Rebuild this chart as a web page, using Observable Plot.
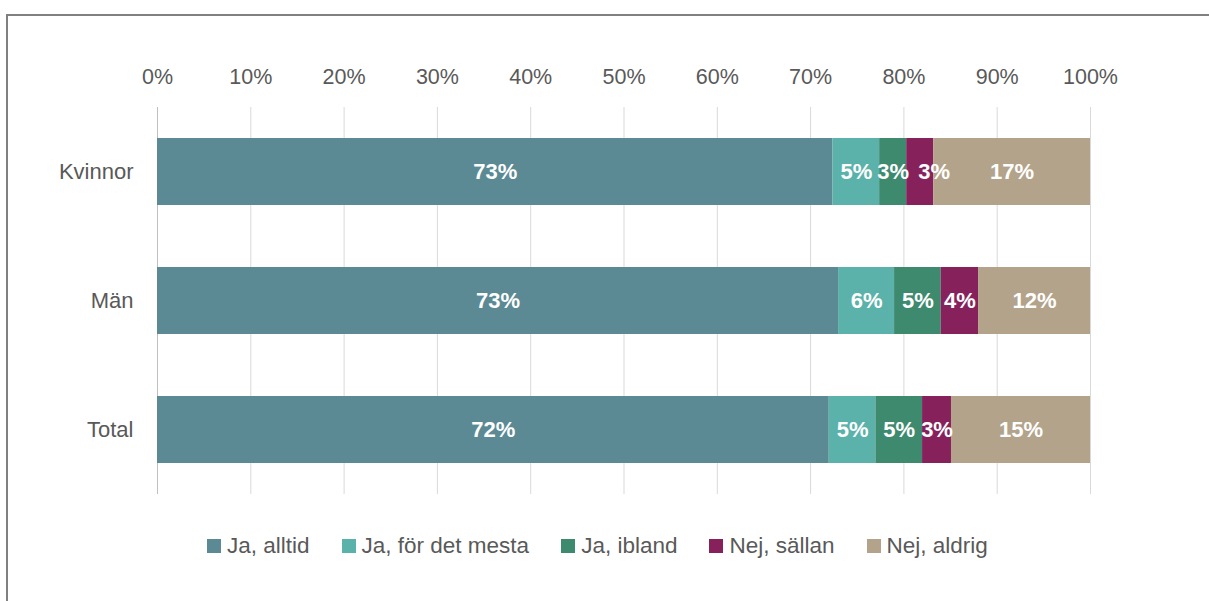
<!DOCTYPE html>
<html>
<head>
<meta charset="utf-8">
<script src="https://cdn.jsdelivr.net/npm/d3@7"></script>
<script src="https://cdn.jsdelivr.net/npm/@observablehq/plot@0.6"></script>
<style>
  body { margin: 0; background: #fff; width: 1209px; height: 601px; overflow: hidden; position: relative; }
  #frame { position: absolute; left: 6px; top: 14px; width: 1400px; height: 800px; border: 2px solid #808080; box-sizing: border-box; pointer-events: none; }
  #chart { position: absolute; left: 0; top: 0; }
  #legend { position: absolute; left: 207px; top: 533px; display: flex; align-items: center; font-family: "Liberation Sans", Arial, sans-serif; font-size: 22.5px; color: #595959; }
  .item { display: flex; align-items: center; margin-right: 32px; }
  .sw { width: 14px; height: 14px; margin-right: 6px; }
</style>
</head>
<body>
<div id="chart"></div>
<div id="legend"></div>
<div id="frame"></div>
<script>
const groups = ["Kvinnor", "Män", "Total"];
const series = ["Ja, alltid", "Ja, för det mesta", "Ja, ibland", "Nej, sällan", "Nej, aldrig"];
const colors = ["#5B8A94", "#5AB2AA", "#3E8A6E", "#87215C", "#B3A38A"];
const valuesKvinnor = [72.4, 5.0, 2.9, 2.9, 16.8];
const valuesMan = [73.0, 6.0, 5.0, 4.0, 12.0];
const valuesTotal = [72.0, 5.0, 5.0, 3.1, 14.9];
const labelsKvinnor = ["73%", "5%", "3%", "3%", "17%"];
const labelsMan = ["73%", "6%", "5%", "4%", "12%"];
const labelsTotal = ["72%", "5%", "5%", "3%", "15%"];
const xTicks = [0, 10, 20, 30, 40, 50, 60, 70, 80, 90, 100];
const xTickLabels = ["0%", "10%", "20%", "30%", "40%", "50%", "60%", "70%", "80%", "90%", "100%"];

const allValues = [valuesKvinnor, valuesMan, valuesTotal];
const allLabels = [labelsKvinnor, labelsMan, labelsTotal];
const data = [];
groups.forEach((g, gi) => series.forEach((s, si) => data.push({group: g, series: s, value: allValues[gi][si], label: allLabels[gi][si]})));

const font = '"Liberation Sans", Arial, sans-serif';
const shifted = d => d.group === "Kvinnor" && d.series === "Nej, sällan";

const labelOpts = {x: "value", y: "group", text: "label", order: null, fill: "white", fontWeight: "bold", fontSize: 22, fontFamily: font};

const plot = Plot.plot({
  width: 1209,
  height: 510,
  marginLeft: 157,
  marginRight: 119,
  marginTop: 107,
  marginBottom: 16,
  style: {background: "transparent", fontFamily: font, fontSize: "22px", color: "#595959", overflow: "visible"},
  x: {domain: [0, 100], ticks: xTicks, label: null},
  y: {domain: groups, paddingInner: 0.477, paddingOuter: 0.23, label: null},
  color: {domain: series, range: colors},
  marks: [
    Plot.ruleX(xTicks, {stroke: d => d === 0 ? "#bfbfbf" : "#d9d9d9", strokeWidth: 1}),
    Plot.barX(data, Plot.stackX({x: "value", y: "group", fill: "series", order: null})),
    Plot.text(data, Plot.filter(d => !shifted(d), Plot.stackX(labelOpts))),
    Plot.text(data, Plot.filter(shifted, Plot.stackX({...labelOpts, dx: 14}))),
    Plot.axisX({anchor: "top", ticks: xTicks, tickSize: 0, tickPadding: 24, tickFormat: d => xTickLabels[xTicks.indexOf(d)], fontSize: 21.5, fill: "#595959", label: null}),
    Plot.axisY({tickSize: 0, tickPadding: 24, fontSize: 22, fill: "#595959", label: null})
  ]
});
document.getElementById("chart").appendChild(plot);

const legend = document.getElementById("legend");
series.forEach((s, i) => {
  const item = document.createElement("div");
  item.className = "item";
  const sw = document.createElement("div");
  sw.className = "sw";
  sw.style.background = colors[i];
  const t = document.createElement("span");
  t.textContent = s;
  item.appendChild(sw);
  item.appendChild(t);
  legend.appendChild(item);
});
</script>
</body>
</html>
